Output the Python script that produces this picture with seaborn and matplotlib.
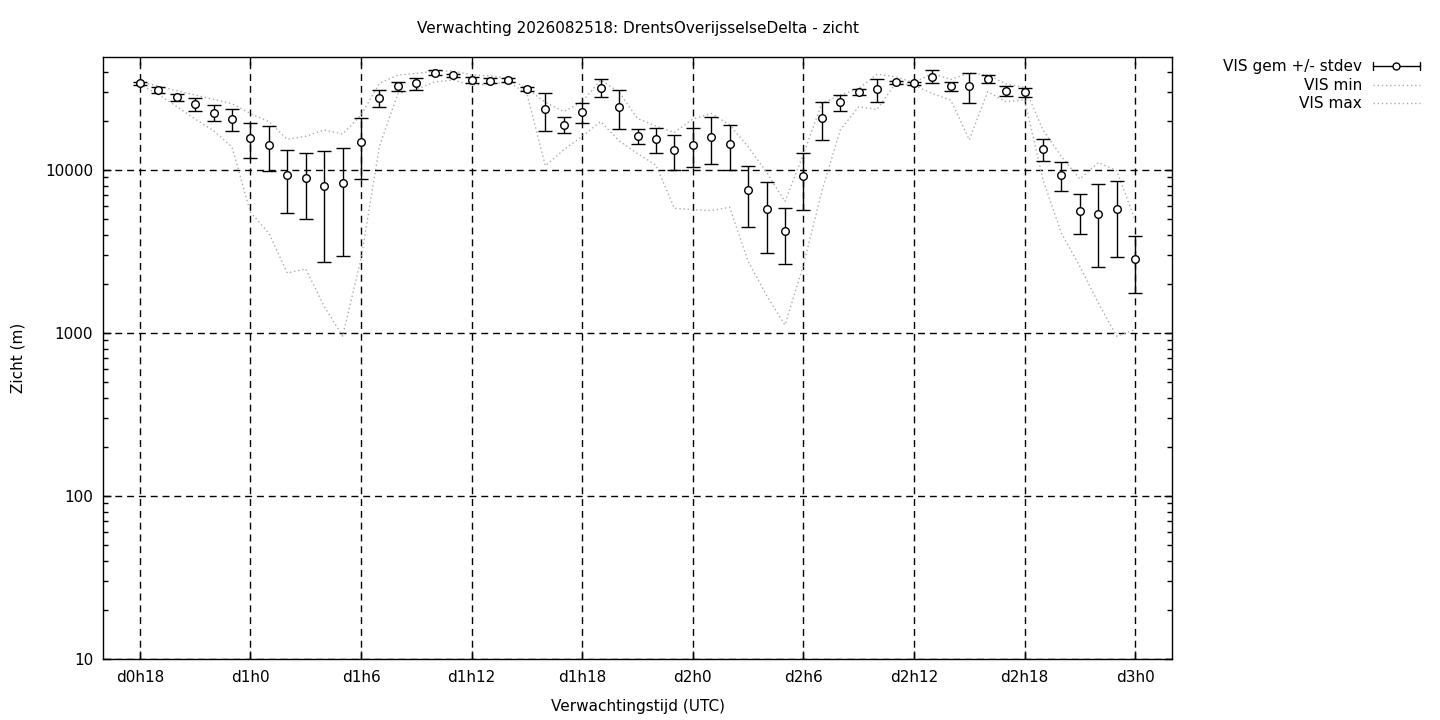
import matplotlib
matplotlib.use("Agg")
import matplotlib.pyplot as plt
from matplotlib.lines import Line2D
from matplotlib.ticker import FixedLocator, LogLocator, NullFormatter
import pandas as pd
import seaborn as sns

# forecast hours (d0h18 .. d3h0)
hours = list(range(18, 73))

vis_mean = [34000, 30800, 27900, 25300, 22400, 20500, 15700, 14200, 9310, 8890,
            7940, 8280, 14800, 27600, 32700, 34000, 39400, 38100, 35600, 35200,
            35600, 31300, 23500, 18900, 22600, 32000, 24300, 16200, 15400, 13200,
            14200, 15900, 14400, 7500, 5740, 4230, 9190, 20700, 26000, 30100,
            31300, 34500, 34000, 37400, 32700, 32700, 36100, 30600, 30000, 13400,
            9270, 5580, 5350, 5740, 2850]

vis_sd = [800, 1300, 1500, 2250, 2500, 3100, 3800, 4400, 3900, 3900,
          5200, 5300, 6050, 3300, 2000, 2900, 1350, 800, 1400, 1200,
          800, 800, 6100, 2150, 3100, 4000, 6550, 1700, 2750, 3150,
          3800, 5100, 4350, 3050, 2650, 1575, 3480, 5350, 2900, 1300,
          5050, 800, 800, 3350, 2000, 6800, 2100, 2250, 1950, 2000,
          1850, 1525, 2820, 2810, 1100]

vis_min = [33600, 29000, 24500, 20500, 17400, 13800, 5500, 4090, 2330, 2470,
           1455, 955, 2850, 14000, 29400, 31200, 34700, 35600, 33100, 33600,
           34700, 29400, 10600, 13300, 16100, 19800, 15100, 12600, 10700, 5820,
           5700, 5640, 5900, 2750, 1700, 1120, 2600, 7400, 17600, 24400,
           23500, 34000, 33100, 29400, 26800, 15300, 30200, 26200, 27000, 8700,
           4090, 2560, 1530, 955, 1050]

vis_max = [34800, 32700, 30600, 28800, 27100, 25500, 22200, 19800, 15400, 16100,
           17600, 16600, 21700, 34000, 38200, 39100, 40400, 40500, 38200, 37800,
           36400, 31600, 26000, 22800, 26200, 35600, 30000, 20700, 18600, 17000,
           20500, 22200, 18900, 13900, 9700, 6400, 12500, 25600, 28800, 31600,
           38700, 37300, 34300, 39100, 35900, 39400, 38200, 33700, 32100, 17600,
           12100, 8800, 11100, 9900, 4940]

tick_hours = [18, 24, 30, 36, 42, 48, 54, 60, 66, 72]
tick_labels = ["d%dh%d" % (h // 24, h % 24) for h in tick_hours]
y_ticks = [10, 100, 1000, 10000]
y_labels = ["10", "100", "1000", "10000"]

sns.set_style("ticks")
plt.rcParams["font.family"] = ["DejaVu Sans"]
plt.rcParams["font.size"] = 11
for key in ("text.color", "axes.labelcolor", "xtick.color", "ytick.color",
            "axes.edgecolor"):
    plt.rcParams[key] = "black"

FS = 11
W, H = 1440, 720
fig = plt.figure(figsize=(W / 100, H / 100), dpi=100)
ax = fig.add_axes([103 / W, 1 - 659 / H, (1172 - 103) / W, (659 - 57) / H])

df = pd.DataFrame({"uur": hours, "gem": vis_mean, "sd": vis_sd,
                   "min": vis_min, "max": vis_max})

dot_col = "#ababab"
sns.lineplot(data=df, x="uur", y="min", ax=ax, color=dot_col, linewidth=1,
             linestyle=(0, (1, 2)), zorder=2)
sns.lineplot(data=df, x="uur", y="max", ax=ax, color=dot_col, linewidth=1,
             linestyle=(0, (1, 2)), zorder=2)

ax.errorbar(df["uur"], df["gem"], yerr=df["sd"], fmt="none", ecolor="black",
            elinewidth=1, capsize=5, capthick=1, zorder=3)
sns.scatterplot(data=df, x="uur", y="gem", ax=ax, marker="o", s=30,
                facecolor="white", edgecolor="black", linewidth=1, zorder=4)

ax.set_yscale("log")
ax.set_xlim(16, 74)
ax.set_ylim(10, 49300)

ax.xaxis.set_major_locator(FixedLocator(tick_hours))
ax.set_xticklabels(tick_labels)
ax.yaxis.set_major_locator(FixedLocator(y_ticks))
ax.set_yticklabels(y_labels)
ax.yaxis.set_minor_locator(LogLocator(base=10, subs=range(2, 10)))
ax.yaxis.set_minor_formatter(NullFormatter())

ax.grid(True, which="major", color="black", linestyle=(0, (5, 3.5)), linewidth=1)
ax.tick_params(which="both", direction="in", top=True, right=True,
               color="black", labelcolor="black", width=1, labelsize=FS)
ax.tick_params(which="major", length=6)
ax.tick_params(axis="x", pad=8)
ax.tick_params(axis="y", pad=7)
ax.tick_params(which="minor", length=3.5)
for sp in ax.spines.values():
    sp.set_color("black")
    sp.set_linewidth(1)
ax.set_xlabel("")
ax.set_ylabel("")

fig.text(638 / W, 1 - 29 / H, "Verwachting 2026082518: DrentsOverijsselseDelta - zicht",
         ha="center", va="center", fontsize=FS)
fig.text(638 / W, 1 - 707 / H, "Verwachtingstijd (UTC)", ha="center", va="center",
         fontsize=FS)
fig.text(18 / W, 1 - 358 / H, "Zicht (m)", ha="center", va="center",
         rotation=90, fontsize=FS)

# key, right aligned text with sample to the right
def fx(px):
    return px / W

def fy(py):
    return 1 - py / H

key_rows = [("VIS gem +/- stdev", 66), ("VIS min", 85), ("VIS max", 103)]
for label, py in key_rows:
    fig.text(fx(1362), fy(py), label, ha="right", va="center", fontsize=FS)

x0, x1, yk = 1373, 1420, 66
fig.add_artist(Line2D([fx(x0), fx(x1)], [fy(yk), fy(yk)], color="black", lw=1))
for xc in (x0, x1):
    fig.add_artist(Line2D([fx(xc), fx(xc)], [fy(yk - 4), fy(yk + 4)], color="black", lw=1))
fig.add_artist(Line2D([fx(1396)], [fy(yk)], marker="o", markersize=5,
                      markerfacecolor="white", markeredgecolor="black", lw=0))
for py in (85, 103):
    fig.add_artist(Line2D([fx(x0), fx(x1)], [fy(py), fy(py)], color=dot_col, lw=1,
                          linestyle=(0, (1, 2))))

fig.savefig("out.png", dpi=100)
